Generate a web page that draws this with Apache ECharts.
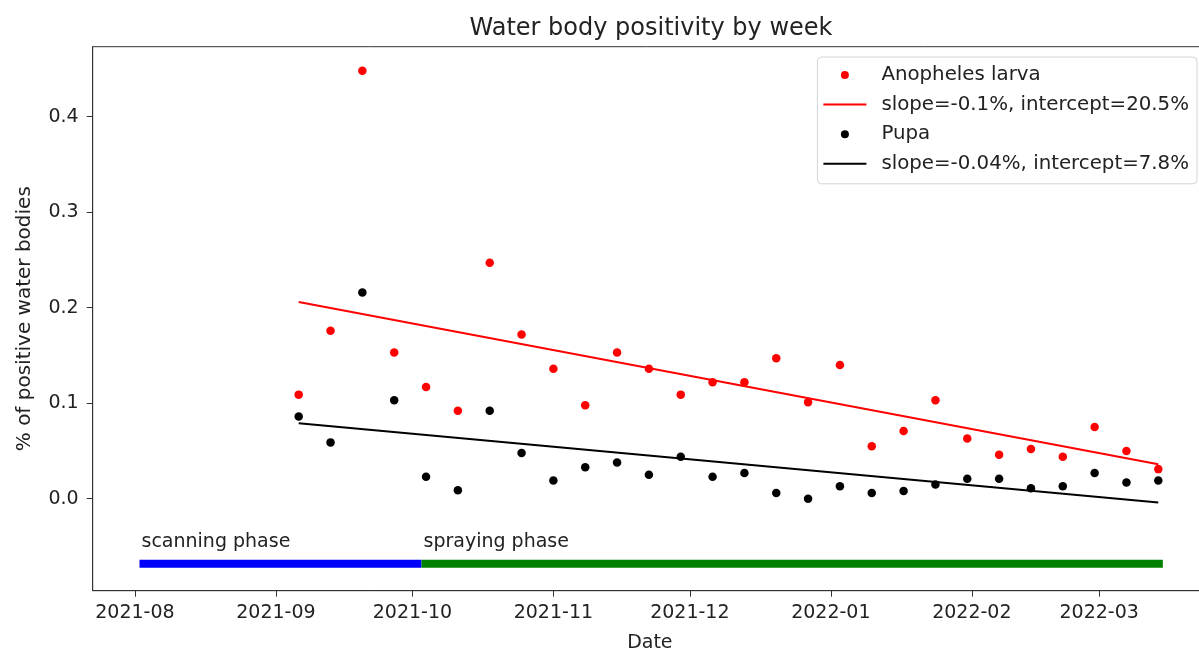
<!DOCTYPE html>
<html>
<head>
<meta charset="utf-8">
<script src="https://cdn.jsdelivr.net/npm/echarts@6/dist/echarts.min.js"></script>
<style>
  html, body { margin: 0; padding: 0; background: #fff; }
  #chart { width: 1199px; height: 648px; }
</style>
</head>
<body>
<div id="chart"></div>
<script>
// ---- data ----
const weekDates = [
  '2021-09-06','2021-09-13','2021-09-20','2021-09-27','2021-10-04','2021-10-11','2021-10-18',
  '2021-10-25','2021-11-01','2021-11-08','2021-11-15','2021-11-22','2021-11-29','2021-12-06',
  '2021-12-13','2021-12-20','2021-12-27','2022-01-03','2022-01-10','2022-01-17','2022-01-24',
  '2022-01-31','2022-02-07','2022-02-14','2022-02-21','2022-02-28','2022-03-07','2022-03-14'
];
const larvaValues = [
  0.109, 0.176, 0.448, 0.153, 0.117, 0.092, 0.247,
  0.172, 0.136, 0.098, 0.153, 0.136, 0.109, 0.122,
  0.122, 0.147, 0.101, 0.140, 0.055, 0.071, 0.103,
  0.063, 0.046, 0.052, 0.044, 0.075, 0.050, 0.031
];
const pupaValues = [
  0.086, 0.059, 0.216, 0.103, 0.023, 0.009, 0.092,
  0.048, 0.019, 0.033, 0.038, 0.025, 0.044, 0.023,
  0.027, 0.006, 0.000, 0.013, 0.006, 0.008, 0.015,
  0.021, 0.021, 0.011, 0.013, 0.027, 0.017, 0.019
];
// fitted trend lines: value at first week and at last week
const larvaTrend = [0.206, 0.036];
const pupaTrend = [0.079, -0.004];

const seriesNames = [
  'Anopheles larva',
  'slope=-0.1%, intercept=20.5%',
  'Pupa',
  'slope=-0.04%, intercept=7.8%'
];

// campaign phases
const phaseNames = ['scanning phase', 'spraying phase'];
const phaseStarts = ['2021-08-02', '2021-10-03'];
const phaseEnds = ['2021-10-03', '2022-03-15'];
const phaseLevel = -0.068;
const phaseLabelLevel = -0.05;

// axis limits (ticks fall on the first day of each month)
const xMin = '2021-07-22 17:00:00';
const xMax = '2022-03-24 17:00:00';
const yMin = -0.0963;
const yMax = 0.4733;

// ---- chart ----
const FONT = 'DejaVu Sans';
const TXT = '#222';
const DAY = 86400000;
const chart = echarts.init(document.getElementById('chart'), null, { renderer: 'canvas' });

const series = [
  {
    name: seriesNames[0], type: 'scatter', symbol: 'circle', symbolSize: 8.5,
    itemStyle: { color: '#ff0000', opacity: 1 }, z: 3,
    data: weekDates.map((d, i) => [d, larvaValues[i]])
  },
  {
    name: seriesNames[1], type: 'line', symbol: 'none', showSymbol: false, z: 2,
    lineStyle: { color: '#ff0000', width: 2 }, itemStyle: { color: '#ff0000' },
    data: [[weekDates[0], larvaTrend[0]], [weekDates[weekDates.length - 1], larvaTrend[1]]]
  },
  {
    name: seriesNames[2], type: 'scatter', symbol: 'circle', symbolSize: 8.5,
    itemStyle: { color: '#000000', opacity: 1 }, z: 3,
    data: weekDates.map((d, i) => [d, pupaValues[i]])
  },
  {
    name: seriesNames[3], type: 'line', symbol: 'none', showSymbol: false, z: 2,
    lineStyle: { color: '#000000', width: 2 }, itemStyle: { color: '#000000' },
    data: [[weekDates[0], pupaTrend[0]], [weekDates[weekDates.length - 1], pupaTrend[1]]]
  }
];

const phaseColors = ['#0000ff', '#008000'];
phaseNames.forEach((nm, i) => {
  series.push({
    name: nm, type: 'line', symbol: 'none', silent: true, z: 1,
    lineStyle: { color: phaseColors[i], width: 8, cap: 'butt' },
    data: [[phaseStarts[i], phaseLevel], [phaseEnds[i], phaseLevel]]
  });
});
series.push({
  name: 'phase labels', type: 'scatter', symbolSize: 0, silent: true, z: 4,
  itemStyle: { opacity: 1, color: TXT },
  data: phaseNames.map((nm, i) => ({ value: [phaseStarts[i], phaseLabelLevel], name: nm })),
  label: {
    show: true, position: [2, 5], align: 'left', verticalAlign: 'bottom',
    formatter: p => p.name, opacity: 1,
    fontFamily: FONT, fontSize: 19, color: TXT
  }
});

const lineIcon = 'path://M0,0H43V2H0Z';

const option = {
  animation: false,
  backgroundColor: '#ffffff',
  title: {
    text: 'Water body positivity by week',
    left: 646, top: 12, textAlign: 'center',
    textStyle: { fontFamily: FONT, fontSize: 24, fontWeight: 'normal', color: TXT }
  },
  legend: {
    data: [
      { name: seriesNames[0], icon: 'circle' },
      { name: seriesNames[1], icon: lineIcon },
      { name: seriesNames[2], icon: 'circle' },
      { name: seriesNames[3], icon: lineIcon }
    ],
    orient: 'vertical',
    right: 2, top: 57,
    itemWidth: 43, itemHeight: 8, itemGap: 9.6,
    padding: [8, 8, 10, 6],
    backgroundColor: 'rgba(255,255,255,0.85)',
    borderColor: '#d5d5d5', borderWidth: 1, borderRadius: 4,
    textStyle: { fontFamily: FONT, fontSize: 19.8, color: TXT, padding: [0, 0, 0, 10] }
  },
  grid: {
    left: 92.7, right: -8, top: 46.7, bottom: 57.3,
    outerBoundsMode: 'none', containLabel: false,
    show: true, borderColor: '#333', borderWidth: 1
  },
  xAxis: {
    type: 'time',
    min: xMin, max: xMax,
    splitNumber: 8, minInterval: 28 * DAY, maxInterval: 31 * DAY,
    name: 'Date', nameLocation: 'middle', nameGap: 43,
    nameTextStyle: { fontFamily: FONT, fontSize: 19, color: TXT },
    axisLine: { show: true, onZero: false, lineStyle: { color: '#333', width: 1 } },
    axisTick: { show: true, inside: false, length: 6, lineStyle: { color: '#333' } },
    axisLabel: {
      show: true, margin: 13, fontFamily: FONT, fontSize: 19, color: TXT,
      formatter: v => echarts.time.format(v, '{yyyy}-{MM}', false),
      showMinLabel: false, showMaxLabel: false, hideOverlap: false
    },
    splitLine: { show: false }
  },
  yAxis: {
    type: 'value',
    min: yMin, max: yMax,
    name: '% of positive water bodies', nameLocation: 'middle', nameGap: 58, nameRotate: 90,
    nameTextStyle: { fontFamily: FONT, fontSize: 20, color: TXT },
    axisLine: { show: true, onZero: false, lineStyle: { color: '#333', width: 1 } },
    axisTick: { show: true, inside: false, length: 6, lineStyle: { color: '#333' } },
    axisLabel: {
      show: true, margin: 14, fontFamily: FONT, fontSize: 19, color: TXT,
      formatter: v => v.toFixed(1),
      showMinLabel: false, showMaxLabel: false
    },
    splitLine: { show: false }
  },
  series: series
};
chart.setOption(option);
</script>
</body>
</html>
